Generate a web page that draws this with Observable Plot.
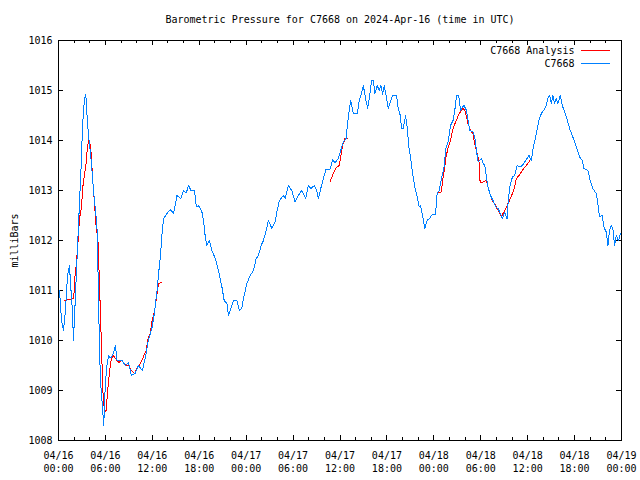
<!DOCTYPE html>
<html>
<head>
<meta charset="utf-8">
<script src="https://cdn.jsdelivr.net/npm/d3@7"></script>
<script src="https://cdn.jsdelivr.net/npm/@observablehq/plot@0.6"></script>
<style>
  html, body { margin: 0; padding: 0; background: #fff; }
  svg { display: block; }
</style>
</head>
<body>
<div id="chart"></div>
<script>
// ---- data (hours since 2024-04-16 00:00 UTC, pressure in mb) ----
const titleText = "Barometric Pressure for C7668 on 2024-Apr-16 (time in UTC)";
const yLabel = "milliBars";
const seriesNames = ["C7668 Analysis", "C7668"];
const yTickValues = [1008, 1009, 1010, 1011, 1012, 1013, 1014, 1015, 1016];

const stationHours = [0, 0.13, 0.38, 0.64, 0.89, 1.15, 1.40, 1.60, 1.78, 1.91, 2.17, 2.43, 2.68, 2.94, 3.06, 3.32, 3.49, 3.66, 3.83, 4.09, 4.30, 4.51, 4.81, 4.94, 5.07, 5.14, 5.27, 5.36, 5.58, 5.78, 6.00, 6.22, 6.42, 6.64, 6.93, 7.28, 7.49, 8.13, 8.55, 8.97, 9.32, 9.83, 10.21, 10.72, 11.11, 11.49, 11.96, 12.26, 12.60, 12.80, 13.02, 13.24, 13.44, 13.88, 14.30, 14.72, 15.15, 15.66, 16.00, 16.34, 16.63, 16.94, 17.40, 17.62, 17.91, 18.34, 18.55, 18.77, 18.98, 19.28, 19.62, 20.04, 20.46, 20.90, 21.19, 21.54, 21.74, 22.17, 22.38, 22.81, 23.14, 23.45, 23.66, 24.09, 24.51, 24.93, 25.28, 25.57, 25.91, 26.21, 26.55, 26.85, 27.28, 27.70, 27.92, 28.25, 28.76, 28.98, 29.40, 29.83, 30.26, 30.68, 31.11, 31.62, 31.95, 32.26, 32.72, 33.02, 33.23, 33.54, 33.87, 34.21, 34.72, 35.07, 35.36, 35.78, 36.09, 36.42, 36.77, 37.06, 37.37, 37.70, 38.21, 38.47, 38.77, 38.98, 39.32, 39.54, 39.74, 40.05, 40.26, 40.47, 40.76, 41.02, 41.23, 41.45, 41.66, 41.96, 42.17, 42.47, 42.73, 43.24, 43.44, 43.66, 43.88, 44.08, 44.39, 44.59, 44.81, 45.02, 45.28, 45.57, 45.87, 46.12, 46.30, 46.56, 46.85, 47.14, 47.49, 47.78, 48.22, 48.42, 48.68, 48.98, 49.28, 49.53, 49.83, 50.13, 50.46, 50.68, 50.90, 51.19, 51.41, 51.66, 51.87, 52.17, 52.38, 52.60, 53.02, 53.23, 53.45, 53.66, 54.09, 54.30, 54.51, 54.73, 54.93, 55.24, 55.57, 55.91, 56.21, 56.43, 56.77, 57.06, 57.36, 57.49, 57.70, 58.05, 58.34, 58.64, 58.98, 59.32, 59.74, 60.17, 60.47, 60.68, 60.98, 61.19, 61.44, 61.75, 62.04, 62.30, 62.59, 62.81, 63.02, 63.23, 63.45, 63.66, 63.87, 64.17, 64.43, 64.72, 65.02, 65.36, 65.71, 66.00, 66.30, 66.64, 66.98, 67.19, 67.70, 68.00, 68.34, 68.77, 68.98, 69.19, 69.54, 69.74, 70.05, 70.26, 70.47, 70.68, 70.89, 71.11, 71.32, 71.62, 71.87];
const stationPressure = [1010.9, 1011.0, 1010.4, 1010.2, 1010.6, 1011.3, 1011.5, 1011.0, 1010.6, 1010.0, 1010.9, 1011.86, 1012.74, 1013.64, 1014.27, 1014.83, 1014.92, 1014.47, 1014.1, 1013.75, 1013.36, 1012.94, 1012.46, 1012.2, 1011.24, 1010.6, 1009.74, 1009.2, 1008.76, 1008.3, 1009.16, 1009.54, 1009.7, 1009.65, 1009.7, 1009.9, 1009.6, 1009.6, 1009.5, 1009.55, 1009.3, 1009.35, 1009.5, 1009.4, 1009.66, 1010.0, 1010.26, 1010.54, 1011.0, 1011.34, 1011.66, 1012.14, 1012.44, 1012.54, 1012.62, 1012.54, 1012.9, 1012.84, 1013.0, 1012.95, 1013.1, 1013.0, 1013.0, 1012.67, 1012.7, 1012.57, 1012.4, 1012.07, 1011.9, 1012.0, 1011.8, 1011.64, 1011.4, 1011.07, 1010.8, 1010.74, 1010.5, 1010.7, 1010.8, 1010.8, 1010.6, 1010.65, 1010.84, 1011.14, 1011.3, 1011.4, 1011.64, 1011.7, 1011.9, 1012.0, 1012.2, 1012.4, 1012.24, 1012.37, 1012.57, 1012.8, 1012.9, 1012.84, 1013.1, 1013.0, 1012.77, 1012.9, 1013.0, 1012.84, 1013.1, 1013.04, 1013.1, 1013.0, 1012.84, 1013.04, 1013.24, 1013.42, 1013.42, 1013.62, 1013.55, 1013.64, 1013.8, 1013.97, 1014.04, 1014.47, 1014.8, 1014.54, 1014.54, 1014.8, 1014.95, 1015.1, 1014.8, 1014.64, 1014.84, 1015.2, 1015.2, 1014.94, 1015.1, 1015.0, 1015.1, 1014.92, 1015.1, 1014.84, 1014.64, 1014.78, 1014.9, 1014.9, 1014.64, 1014.54, 1014.24, 1014.24, 1014.5, 1014.26, 1013.87, 1013.67, 1013.34, 1013.07, 1012.87, 1012.67, 1012.7, 1012.5, 1012.24, 1012.4, 1012.45, 1012.52, 1012.52, 1012.94, 1013.0, 1013.24, 1013.44, 1013.84, 1013.97, 1014.3, 1014.4, 1014.6, 1014.9, 1014.9, 1014.6, 1014.67, 1014.7, 1014.6, 1014.4, 1014.2, 1014.17, 1014.07, 1013.8, 1013.57, 1013.64, 1013.54, 1013.5, 1013.27, 1013.07, 1012.9, 1012.8, 1012.67, 1012.64, 1012.57, 1012.43, 1012.57, 1012.44, 1012.74, 1013.07, 1013.27, 1013.3, 1013.5, 1013.47, 1013.5, 1013.6, 1013.7, 1013.6, 1013.83, 1014.04, 1014.2, 1014.4, 1014.54, 1014.6, 1014.67, 1014.84, 1014.9, 1014.74, 1014.9, 1014.74, 1014.84, 1014.74, 1014.9, 1014.7, 1014.57, 1014.44, 1014.24, 1014.1, 1013.97, 1013.84, 1013.67, 1013.6, 1013.44, 1013.4, 1013.2, 1013.04, 1012.94, 1012.74, 1012.47, 1012.5, 1012.27, 1012.17, 1011.9, 1012.2, 1012.3, 1012.25, 1011.9, 1012.1, 1012.0, 1012.14];

// analysis: null marks a gap between segments
const analysisHours = [0.80, 1.40, 1.95, 2.08, 2.26, 2.51, 2.68, 2.94, 3.10, 3.36, 3.54, 3.66, 3.87, 4.09, 4.21, 4.38, 4.60, 4.85, 5.02, 5.23, 5.36, 5.58, 5.71, 5.91, 6.09, 6.29, 6.55, 6.77, 7.06, 7.28, 7.70, 8.13, 8.64, 8.97, 9.32, 9.74, 10.05, 10.47, 10.76, 11.20, 11.45, 11.74, 11.96, 12.29, 12.60, 12.80, 13.11,
  24.0,
  34.72, 35.14, 35.58, 35.91, 36.09, 36.34, 36.64, 36.93,
  42.0,
  48.55, 48.98, 49.11, 49.28, 49.53, 49.83, 50.13, 50.39, 50.68, 50.98, 51.23, 51.54, 51.74, 51.96, 52.17, 52.38, 52.81, 53.02, 53.23, 53.66, 53.87, 53.91, 54.30, 54.73, 54.93, 55.15, 55.49, 55.79, 56.08, 56.43, 56.64, 56.85, 57.19, 57.49, 57.79, 58.13, 58.34, 58.55, 58.89, 59.19, 59.49, 59.83, 60.17, 60.47];
const analysisPressure = [1010.8, 1010.82, 1010.85, 1011.24, 1011.5, 1012.0, 1012.44, 1012.66, 1013.06, 1013.36, 1013.56, 1013.8, 1014.04, 1013.9, 1013.66, 1013.2, 1012.74, 1012.2, 1012.1, 1011.2, 1010.54, 1009.46, 1008.86, 1008.56, 1008.6, 1009.0, 1009.4, 1009.64, 1009.7, 1009.64, 1009.56, 1009.6, 1009.5, 1009.5, 1009.4, 1009.34, 1009.45, 1009.54, 1009.64, 1009.8, 1010.04, 1010.15, 1010.4, 1010.6, 1010.94, 1011.14, 1011.16,
  null,
  1013.17, 1013.34, 1013.47, 1013.5, 1013.67, 1013.9, 1014.04, 1014.04,
  null,
  1012.96, 1012.97, 1013.2, 1013.34, 1013.64, 1013.87, 1014.0, 1014.2, 1014.33, 1014.44, 1014.54, 1014.6, 1014.64, 1014.6, 1014.47, 1014.33, 1014.17, 1014.13, 1013.93, 1013.67, 1013.5, 1013.17, 1013.17, 1013.2, 1013.07, 1012.94, 1012.8, 1012.73, 1012.64, 1012.54, 1012.47, 1012.54, 1012.64, 1012.74, 1012.84, 1012.97, 1013.07, 1013.24, 1013.3, 1013.37, 1013.44, 1013.5, 1013.57, 1013.67];

// ---- build ----
const start = Date.UTC(2024, 3, 16);
const toDate = h => new Date(start + h * 3600e3);
const station = stationHours.map((h, i) => ({t: toDate(h), p: stationPressure[i]}));
const analysis = analysisHours.map((h, i) => ({t: toDate(h), p: analysisPressure[i]}));

const x0 = toDate(0), x1 = toDate(72);
const majorX = d3.utcHour.every(6).range(x0, new Date(+x1 + 1));
const minorX = d3.utcHour.every(2).range(x0, x1).filter(d => d.getUTCHours() % 6 !== 0);

const W = 640, H = 480;
const mL = 58, mR = 19, mT = 40, mB = 40;
const pw = W - mL - mR, ph = H - mT - mB;
const majorLen = 5, minorLen = 3;
const RED = "#ff0000", BLUE = "#0080ff";
const fmt = d3.utcFormat("%m/%d\n%H:%M");
const crisp = {shapeRendering: "crispEdges"};

const chart = Plot.plot({
  width: W, height: H,
  marginLeft: mL, marginRight: mR, marginTop: mT, marginBottom: mB,
  style: {fontFamily: "'DejaVu Sans Mono', 'Liberation Mono', monospace", fontSize: "10px", background: "#fff", color: "#000"},
  x: {type: "utc", domain: [x0, x1]},
  y: {domain: [1008, 1016]},
  marks: [
    Plot.axisX({ticks: majorX, tickFormat: fmt, tickSize: 0, tickPadding: 9, lineHeight: 1.3, label: null}),
    Plot.axisY({ticks: yTickValues, tickFormat: d => String(d), tickSize: 0, tickPadding: 6, label: yLabel, labelAnchor: "center", labelArrow: "none", labelOffset: 48}),
    // inward ticks, mirrored
    Plot.tickX(majorX, {x: d => d, insetTop: ph - majorLen, stroke: "#000", ...crisp}),
    Plot.tickX(majorX, {x: d => d, insetBottom: ph - majorLen, stroke: "#000", ...crisp}),
    Plot.tickX(minorX, {x: d => d, insetTop: ph - minorLen, stroke: "#000", ...crisp}),
    Plot.tickX(minorX, {x: d => d, insetBottom: ph - minorLen, stroke: "#000", ...crisp}),
    Plot.tickY(yTickValues, {y: d => d, insetRight: pw - majorLen, stroke: "#000", ...crisp}),
    Plot.tickY(yTickValues, {y: d => d, insetLeft: pw - majorLen, stroke: "#000", ...crisp}),
    Plot.line(analysis, {x: "t", y: "p", stroke: RED, strokeWidth: 1, curve: "linear", ...crisp}),
    Plot.line(station, {x: "t", y: "p", stroke: BLUE, strokeWidth: 1, curve: "linear", ...crisp}),
    Plot.frame({stroke: "#000", ...crisp}),
    Plot.text([titleText], {frameAnchor: "top", dy: -21, lineAnchor: "middle", fill: "#000"}),
    Plot.text([seriesNames[0]], {frameAnchor: "top-right", dx: -47, dy: 10, lineAnchor: "middle", textAnchor: "end", fill: "#000"}),
    Plot.text([seriesNames[1]], {frameAnchor: "top-right", dx: -47, dy: 23, lineAnchor: "middle", textAnchor: "end", fill: "#000"})
  ]
});

// legend sample lines
const svg = d3.select(chart);
const right = W - mR;
[[RED, mT + 10.5], [BLUE, mT + 23.5]].forEach(([c, y]) => {
  svg.append("line").attr("x1", right - 40).attr("x2", right - 11)
    .attr("y1", y).attr("y2", y).attr("stroke", c).attr("stroke-width", 1)
    .attr("shape-rendering", "crispEdges");
});

document.getElementById("chart").appendChild(chart);
</script>
</body>
</html>
